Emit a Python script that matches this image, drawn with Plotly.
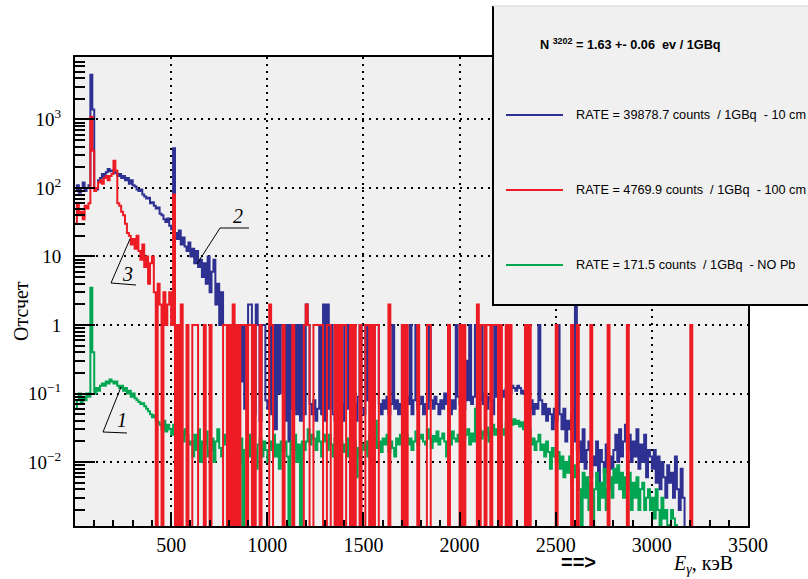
import numpy as np
import plotly.graph_objects as go

BIN_WIDTH = 10  # keV per bin
N_BINS = 350    # 0 .. 3500 keV

# ---- Series 2 (blue): RATE 39878.7, 10 cm; counts per 10 keV bin starting at 0 keV
blue_counts = [
    90, 110, 85, 100, 120, 90, 100, 110, 4500, 1400,          # 0-90
    100, 95, 130, 140, 160, 150, 170, 190, 175, 180,          # 100-190
    165, 170, 150, 160, 140, 150, 130, 140, 115, 130,         # 200-290
    110, 105, 95, 90, 95, 80, 75, 70, 72, 60,                 # 300-390
    62, 55, 50, 52, 42, 40, 35, 32, 36, 28,                   # 400-490
    25, 380, 22, 18, 24, 15, 19, 14, 12, 16,                  # 500-590
    10, 13, 8, 12, 7, 9, 5, 8, 4, 10,                         # 600-690
    3, 6, 9, 2, 4, 1, 3, 1, 1, 1,                             # 700-790
    0.3, 1, 1, 0.08, 1, 1, 0.15, 1, 0.06, 1,                  # 800-890
    2, 2, 1, 0.05, 2, 1, 0.04, 1, 1, 0.08,                    # 900-990
    0.06, 1, 0.05, 1, 0.03, 1, 0.1, 1, 1, 0.04,               # 1000-1090
    1, 0.02, 1, 0.06, 1, 0.05, 1, 0.04, 1, 0.05,              # 1100-1190
    2, 1, 0.07, 0.05, 0.08, 0.04, 0.06, 1, 0.05, 2,           # 1200-1290
    0.04, 2, 0.06, 1, 0.05, 0.04, 1, 0.03, 0.07, 0.04,        # 1300-1390
    1, 1, 0.06, 0.08, 0.05, 0.07, 0.04, 0.09, 1, 0.06,        # 1400-1490
    0.05, 1, 0.08, 1, 1, 0.06, 1, 1, 0.07, 0.05,              # 1500-1590
    0.08, 0.06, 0.09, 0.05, 0.07, 1, 0.06, 0.08, 0.05, 0.07,  # 1600-1690
    1, 0.06, 0.09, 0.07, 1, 0.05, 0.08, 1, 0.06, 0.07,        # 1700-1790
    0.09, 0.05, 0.07, 0.06, 1, 0.08, 0.06, 0.09, 0.07, 0.05,  # 1800-1890
    0.08, 0.06, 0.1, 0.07, 1, 0.05, 0.08, 0.06, 1, 0.09,      # 1900-1990
    0.07, 1, 0.06, 0.3, 0.08, 1, 0.07, 0.09, 1, 0.06,         # 2000-2090
    0.08, 1, 0.07, 0.1, 0.06, 0.09, 0.08, 0.05, 1, 0.09,      # 2100-2190
    0.1, 0.08, 0.11, 0.09, 0.12, 1, 0.1, 0.13, 0.12, 0.11,    # 2200-2290
    0.13, 0.12, 0.1, 0.11, 0.07, 0.09, 0.06, 0.08, 0.05, 0.07,  # 2300-2390
    0.06, 1, 0.08, 0.05, 0.07, 0.04, 0.06, 0.05, 0.03, 0.06,  # 2400-2490
    0.04, 1, 0.05, 0.03, 0.06, 0.02, 0.04, 0.03, 0.05, 0.02,  # 2500-2590
    2, 0.015, 0.02, 0.01, 0.03, 0.008, 0.015, 0.02, 0.006, 0.012,   # 2600-2690
    0.009, 0.02, 0.005, 0.015, 0.01, 0.007, 0.018, 0.005, 0.012, 0.008,  # 2700-2790
    0.015, 0.025, 0.01, 0.03, 0.012, 0.02, 0.035, 0.015, 0.025, 0.01,   # 2800-2890
    0.02, 0.012, 0.03, 0.008, 0.018, 0.01, 0.025, 0.006, 0.015, 0.012,  # 2900-2990
    0.008, 0.015, 0.005, 0.012, 0.004, 0.01, 0.006, 0.003, 0.009, 0.005,  # 3000-3090
    0.007, 0.003, 0.012, 0.004, 0.002, 0.008, 0.003, 0, 0, 0,  # 3100-3190
]

# ---- Series 1 (green): RATE 171.5, NO Pb
green_counts = [
    0.06, 0.08, 0.1, 0.07, 0.09, 0.08, 0.1, 0.09, 3.5, 0.4,   # 0-90
    0.1, 0.12, 0.11, 0.13, 0.14, 0.13, 0.15, 0.14, 0.16, 0.15,  # 100-190
    0.14, 0.15, 0.13, 0.12, 0.13, 0.11, 0.12, 0.1, 0.11, 0.09,  # 200-290
    0.1, 0.085, 0.08, 0.075, 0.07, 0.072, 0.065, 0.06, 0.055, 0.05,  # 300-390
    0.045, 0.048, 0.04, 0.038, 0.035, 0.03, 0.04, 0.028, 0.035, 0.03,  # 400-490
    0.025, 0.035, 0.03, 0.022, 0.032, 0.028, 0.02, 0.03, 0.025, 0.018,  # 500-590
    0.02, 0.012, 0.025, 0.015, 0.03, 0.01, 0.02, 0.018, 0.028, 0.012,  # 600-690
    0.015, 0.022, 0.01, 0.02, 0.03, 0.016, 0.012, 0.025, 0.018, 0.02,  # 700-790
    0.012, 0.025, 0.015, 0.03, 0.02, 0.01, 0.022, 0, 0.015, 0.02,      # 800-890
    0.025, 0.012, 0.02, 0.015, 0.008, 0.018, 0.022, 0.012, 0.02, 0.015,  # 900-990
    0.01, 0.02, 0.015, 0.025, 0.012, 0.018, 0.008, 0.02, 0.015, 0.02,  # 1000-1090
    0.012, 0, 0.02, 0.015, 0.025, 0.01, 0.018, 0, 0.02, 0.015,         # 1100-1190
    0.02, 0.03, 0.018, 0.025, 0.022, 0.015, 0.028, 0.02, 0.012, 0.025,  # 1200-1290
    0.02, 0.015, 0.025, 0.018, 0.012, 0.022, 0.016, 0.008, 0.02, 0.014,  # 1300-1390
    0.018, 0.012, 0.022, 0.015, 0.01, 0.02, 0.006, 0.016, 0.012, 0.018,  # 1400-1490
    0.015, 0.02, 0.012, 0.025, 0.018, 0.022, 0.04, 0.016, 0.02, 0.014,  # 1500-1590
    0.022, 0.018, 0.025, 0.014, 0.02, 0.016, 0.012, 0.022, 0.018, 0.025,  # 1600-1690
    0.02, 0.016, 0.025, 0.018, 0.022, 0.015, 0.02, 0.028, 0.018, 0.022,  # 1700-1790
    0.025, 0.02, 0.018, 0.03, 0.022, 0.016, 0.024, 0.02, 0.028, 0.018,  # 1800-1890
    0.022, 0.026, 0.02, 0.012, 0.024, 0.018, 0.028, 0.022, 0.02, 0.025,  # 1900-1990
    0.02, 0.028, 0.022, 0.025, 0.03, 0.018, 0.026, 0.02, 0.06, 0.025,  # 2000-2090
    0.03, 0.022, 0.028, 0.025, 0.032, 0.02, 0.028, 0.035, 0.025, 0.03,  # 2100-2190
    0.028, 0.035, 0.03, 0.025, 0.038, 0.032, 0.04, 0.035, 0.042, 0.036,  # 2200-2290
    0.04, 0.033, 0.038, 0.03, 0.025, 0.02, 0.03, 0.018, 0.022, 0.015,  # 2300-2390
    0.02, 0.025, 0.015, 0.018, 0.012, 0.02, 0.014, 0.008, 0.016, 0.012,  # 2400-2490
    0.01, 0.014, 0.008, 0.012, 0.006, 0.01, 0.007, 0.012, 0.005, 0.009,  # 2500-2590
    0.006, 0.008, 0.004, 0, 0.007, 0.003, 0.006, 0.002, 0.005, 0,      # 2600-2690
    0.004, 0.007, 0.002, 0.005, 0.003, 0.008, 0.002, 0.004, 0.006, 0.003,  # 2700-2790
    0.008, 0.005, 0.009, 0.004, 0.007, 0.003, 0.006, 0.004, 0.007, 0.002,  # 2800-2890
    0.005, 0.003, 0.006, 0.002, 0.004, 0.005, 0.002, 0.003, 0.004, 0.002,  # 2900-2990
    0.003, 0.0015, 0.004, 0.002, 0, 0.003, 0.0015, 0.002, 0, 0.0012,   # 3000-3090
    0.002, 0.0015, 0.0012, 0, 0, 0, 0, 0, 0, 0,                        # 3100-3190
]

# ---- Series 3 (red): RATE 4769.9, 100 cm
red_counts_low = [
    30, 60, 40, 45, 35, 55, 50, 60, 1100, 350,     # 0-90
    90, 100, 120, 130, 115, 140, 150, 130, 150, 160,  # 100-190
    250, 180, 60, 55, 45, 40, 30, 22, 20, 15,      # 200-290
    18, 13, 20, 12, 9, 15, 7, 10, 4, 8,            # 300-390
    10, 3, 0, 4, 2, 0, 3, 1, 2, 3,                 # 400-490
    1, 80,                                         # 500-510
]
# isolated single/double counts above 520 keV (bin lower edge, keV)
red_hit_energies = [
    530, 550, 580, 610, 620, 630, 670, 700, 770, 780, 800, 820, 840, 860, 870,
    880, 900, 910, 930, 960, 1010, 1020, 1080, 1130, 1190, 1200, 1210, 1240,
    1250, 1260, 1270, 1280, 1310, 1320, 1350, 1370, 1390, 1400, 1430, 1450,
    1480, 1510, 1520, 1540, 1560, 1570, 1630, 1700, 1720, 1780, 1830, 1840,
    1940, 2000, 2020, 2090, 2110, 2120, 2140, 2150, 2170, 2180, 2190, 2210,
    2240, 2260, 2340, 2360, 2500, 2580, 2610, 2680, 2770, 2870, 3200,
]
red_hit_counts = [
    1, 2, 1, 1, 1, 1, 1, 1, 1, 1, 1, 2, 1, 1, 1,
    1, 1, 1, 1, 1, 2, 1, 1, 1, 1, 2, 1, 1,
    1, 1, 1, 1, 1, 1, 1, 1, 1, 1, 1, 1,
    1, 1, 1, 1, 1, 1, 2, 1, 1, 1, 1, 1,
    1, 1, 1, 2, 1, 1, 1, 1, 1, 1, 1, 1,
    1, 1, 1, 1, 1, 1, 1, 1, 1, 1, 1,
]

x_tick_vals = [500, 1000, 1500, 2000, 2500, 3000, 3500]
y_tick_vals = [0.01, 0.1, 1, 10, 100, 1000]
y_tick_text = ["10<sup>\u22122</sup>", "10<sup>\u22121</sup>", "1", "10",
               "10<sup>2</sup>", "10<sup>3</sup>"]

legend_texts = [
    "RATE = 39878.7 counts \u00a0/ 1GBq \u00a0- 10 cm",
    "RATE = 4769.9 counts \u00a0/ 1GBq \u00a0- 100 cm",
    "RATE = 171.5 counts \u00a0/ 1GBq \u00a0- NO Pb",
]
title_text = "<b>N <sup>3202</sup> = 1.63 +- 0.06 \u00a0ev / 1GBq</b>"

BLUE = "rgb(46,49,146)"
RED = "rgb(237,28,36)"
GREEN = "rgb(0,166,81)"


def full(vals):
    arr = np.zeros(N_BINS)
    arr[:len(vals)] = vals
    return arr


blue = full(blue_counts)
green = full(green_counts)
red = full(red_counts_low)
for e, c in zip(red_hit_energies, red_hit_counts):
    red[e // BIN_WIDTH] = c

edges = np.arange(N_BINS + 1) * BIN_WIDTH
FLOOR = 1e-6  # empty bins drawn below the axis, as ROOT does


def step_y(arr):
    y = np.where(arr > 0, arr, FLOOR)
    return np.append(y, y[-1])


fig = go.Figure()
for arr, col, name in [(blue, BLUE, "10 cm"), (green, GREEN, "NO Pb"), (red, RED, "100 cm")]:
    fig.add_trace(go.Scatter(x=edges, y=step_y(arr), mode="lines", name=name,
                             line=dict(color=col, width=2, shape="hv"),
                             showlegend=False, hoverinfo="skip"))

# plot area in pixels
L, R, T, B = 75, 748, 57, 526
W, H = 808, 579


def px(x):
    return (x - L) / (R - L)


def py(y):
    return (B - y) / (B - T)


serif = "Liberation Serif"
sans = "Liberation Sans"

fig.update_layout(
    width=W, height=H,
    margin=dict(l=L, r=W - R, t=T, b=H - B),
    paper_bgcolor="white", plot_bgcolor="#f0f0f0",
    xaxis=dict(range=[0, 3500], tickvals=x_tick_vals, ticks="inside", ticklen=14,
               tickwidth=2, tickcolor="black", showline=True, linecolor="black",
               linewidth=2, mirror=True, showgrid=True, gridcolor="black",
               gridwidth=2, griddash="2px,5px", zeroline=False,
               tickfont=dict(family=serif, size=20, color="black"),
               minor=dict(dtick=100, ticks="inside", ticklen=6, tickwidth=2,
                          tickcolor="black", showgrid=False)),
    yaxis=dict(type="log", range=[-2.934, 3.912], tickvals=y_tick_vals,
               ticktext=y_tick_text, ticks="inside", ticklen=20, tickwidth=2,
               tickcolor="black", showline=True, linecolor="black", linewidth=2,
               mirror=True, showgrid=True, gridcolor="black", gridwidth=2,
               griddash="2px,5px", zeroline=False, ticklabelstandoff=8,
               tickfont=dict(family=serif, size=19, color="black"),
               minor=dict(tickvals=[m * 10.0 ** d for d in range(-3, 4) for m in range(2, 10)],
                          ticks="inside", ticklen=10, tickwidth=2,
                          tickcolor="black", showgrid=False)),
)

shapes = [
    # legend box
    dict(type="rect", xref="paper", yref="paper", x0=px(493), x1=px(820),
         y0=py(305), y1=py(5), fillcolor="#f0f0f0", line=dict(width=0), layer="above"),
    dict(type="line", xref="paper", yref="paper", x0=px(493), x1=px(493),
         y0=py(305), y1=py(6), line=dict(color="black", width=2), layer="above"),
    dict(type="line", xref="paper", yref="paper", x0=px(492), x1=px(820),
         y0=py(305), y1=py(305), line=dict(color="black", width=2), layer="above"),
    dict(type="line", xref="paper", yref="paper", x0=px(493), x1=px(820),
         y0=py(6), y1=py(6), line=dict(color="#d8d8d8", width=1), layer="above"),
]
for ly, col in [(115, BLUE), (190, RED), (265, GREEN)]:
    shapes.append(dict(type="line", xref="paper", yref="paper", x0=px(506), x1=px(563),
                       y0=py(ly), y1=py(ly), line=dict(color=col, width=2), layer="above"))
# leader lines for curve labels
leaders = [
    [(220, 228), (249, 228)], [(220, 228), (197, 264)],       # 2
    [(130, 239), (111, 283)], [(111, 283), (136, 285)],       # 3
    [(121, 387), (103, 432)], [(103, 432), (127, 433)],       # 1
]
for (x0, y0), (x1, y1) in leaders:
    shapes.append(dict(type="line", xref="paper", yref="paper", x0=px(x0), x1=px(x1),
                       y0=py(y0), y1=py(y1), line=dict(color="black", width=1), layer="above"))
fig.update_layout(shapes=shapes)

ann = []
ann.append(dict(x=px(538), y=py(44), xref="paper", yref="paper", text=title_text,
                showarrow=False, xanchor="left", yanchor="middle",
                font=dict(family=sans, size=12.7, color="black")))
for ly, t in zip([115, 190, 265], legend_texts):
    ann.append(dict(x=px(574), y=py(ly), xref="paper", yref="paper", text=t,
                    showarrow=False, xanchor="left", yanchor="middle",
                    font=dict(family=sans, size=12.7, color="black")))
for t, x, y in [("2", 238, 216), ("3", 127, 274), ("1", 122, 420)]:
    ann.append(dict(x=px(x), y=py(y), xref="paper", yref="paper", text="<i>" + t + "</i>",
                    showarrow=False, xanchor="center", yanchor="middle",
                    font=dict(family=serif, size=20, color="black")))
ann.append(dict(x=px(21), y=py(311), xref="paper", yref="paper", text="Отсчет",
                textangle=-90, showarrow=False, xanchor="center", yanchor="middle",
                font=dict(family=serif, size=20, color="black")))
ann.append(dict(x=px(703), y=py(564), xref="paper", yref="paper",
                text="<i>E</i><sub><i>\u03b3</i></sub>, кэВ",
                showarrow=False, xanchor="center", yanchor="middle",
                font=dict(family=serif, size=20, color="black")))
ann.append(dict(x=px(578), y=py(562), xref="paper", yref="paper", text="<b>==></b>",
                showarrow=False, xanchor="center", yanchor="middle",
                font=dict(family=sans, size=20, color="black")))
fig.update_layout(annotations=ann)

fig.write_html("out.html", config={"displayModeBar": False},
               post_script="document.body.style.margin='0px';")
